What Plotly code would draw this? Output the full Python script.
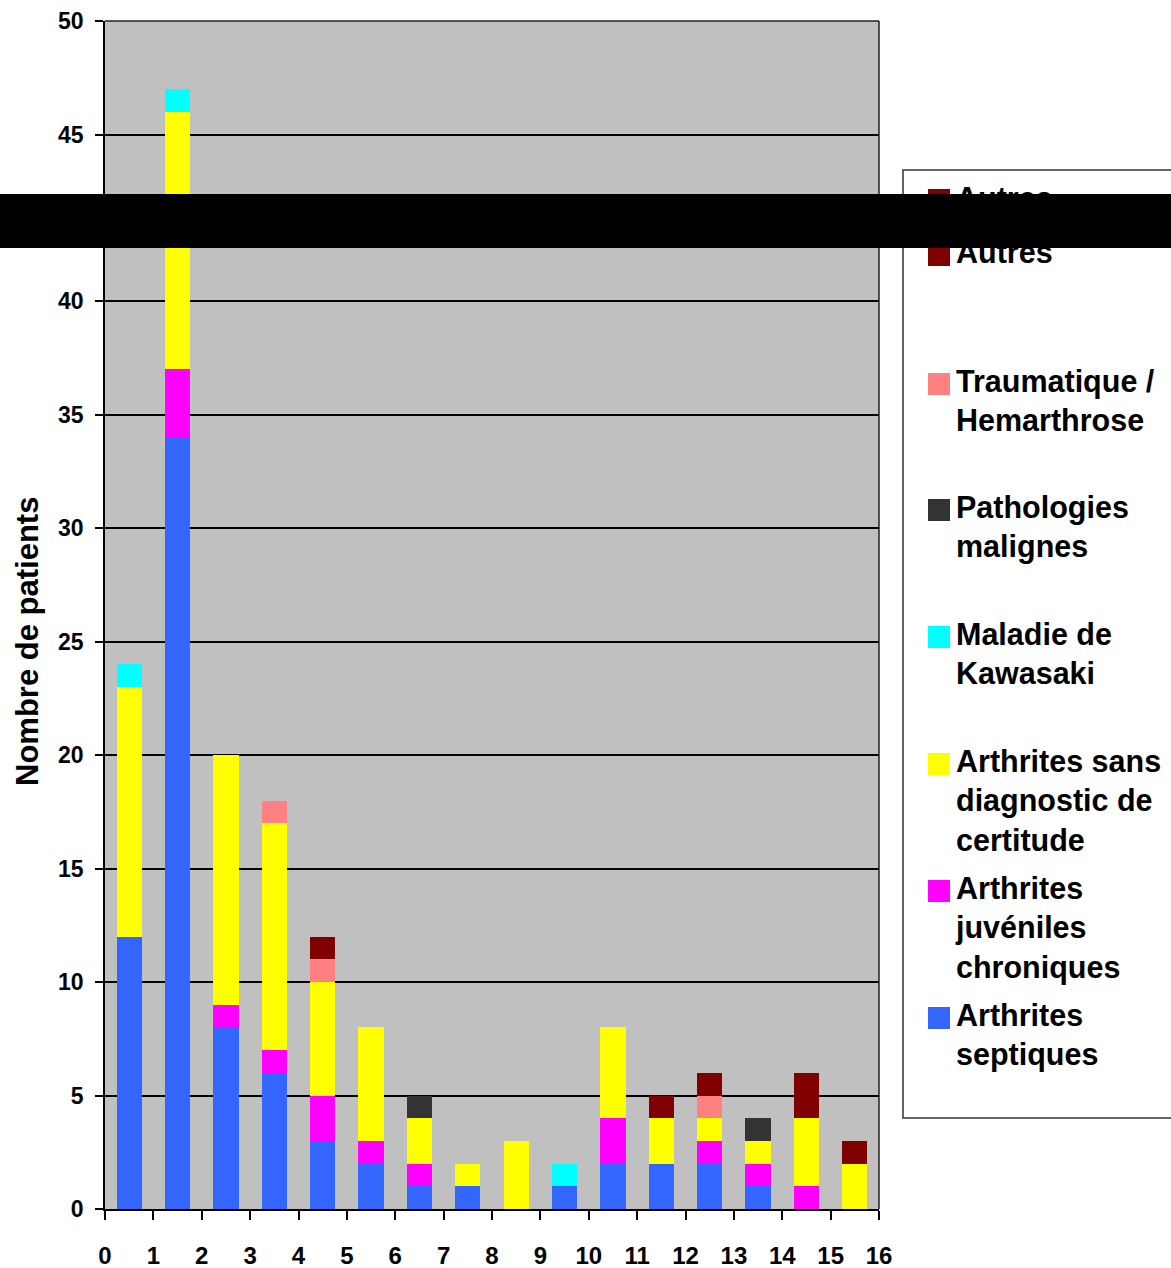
import plotly.graph_objects as go

# ---- data -------------------------------------------------------------
x_pos = [i + 0.5 for i in range(16)]
x_ticks = list(range(17))

series_names = [
    "Arthrites septiques",
    "Arthrites juvéniles chroniques",
    "Arthrites sans diagnostic de certitude",
    "Maladie de Kawasaki",
    "Pathologies malignes",
    "Traumatique / Hemarthrose",
    "Autres",
]
legend_labels = [
    "Arthrites<br>septiques",
    "Arthrites<br>juvéniles<br>chroniques",
    "Arthrites sans<br>diagnostic de<br>certitude",
    "Maladie de<br>Kawasaki",
    "Pathologies<br>malignes",
    "Traumatique /<br>Hemarthrose",
    "Autres",
]
septiques = [12, 34, 8, 6, 3, 2, 1, 1, 0, 1, 2, 2, 2, 1, 0, 0]
juveniles = [0, 3, 1, 1, 2, 1, 1, 0, 0, 0, 2, 0, 1, 1, 1, 0]
sans_diag = [11, 9, 11, 10, 5, 5, 2, 1, 3, 0, 4, 2, 1, 1, 3, 2]
kawasaki = [1, 1, 0, 0, 0, 0, 0, 0, 0, 1, 0, 0, 0, 0, 0, 0]
malignes = [0, 0, 0, 0, 0, 0, 1, 0, 0, 0, 0, 0, 0, 1, 0, 0]
traumatique = [0, 0, 0, 1, 1, 0, 0, 0, 0, 0, 0, 0, 1, 0, 0, 0]
autres = [0, 0, 0, 0, 1, 0, 0, 0, 0, 0, 0, 1, 1, 0, 2, 1]
series_values = [septiques, juveniles, sans_diag, kawasaki, malignes, traumatique, autres]
colors = ["#3366FF", "#FF00FF", "#FFFF00", "#00FFFF", "#333333", "#FF8080", "#800000"]

y_ticks_low = [0, 5, 10, 15, 20, 25, 30, 35, 40]
y_ticks_high = [45, 50]
y_break = 42.35
y_max = 50

# ---- geometry helpers (pixel -> paper) ----------------------------------
W, H = 1171, 1268


def px(v):
    return v / W


def py(v):
    return 1 - v / H


FONT = "Liberation Sans, Arial, Helvetica, sans-serif"
plot_l, plot_r = 105, 879
low_top, low_bot = 248, 1209
high_top, high_bot = 21, 195

fig = go.Figure()

# stacked bars, drawn on both halves of the broken axis
for name, vals, col in zip(series_names, series_values, colors):
    for xa, ya in (("x", "y"), ("x2", "y2")):
        fig.add_trace(go.Bar(
            x=x_pos, y=vals, name=name, width=0.52,
            marker=dict(color=col, line=dict(width=0)),
            xaxis=xa, yaxis=ya, showlegend=False, hoverinfo="skip",
        ))

# legend text lives on a hidden pixel-coordinate axis so the band can cover it
leg_x_text = 956
leg_font_size = 30.5
leg_first_line = [1018, 891, 764, 637, 510, 384, 255]
line_h = 1.3 * leg_font_size
leg_sw = 22
for lab, yc in zip(legend_labels, leg_first_line):
    n = lab.count("<br>") + 1
    fig.add_trace(go.Scatter(
        x=[leg_x_text], y=[yc + (n - 1) * line_h / 2], mode="text",
        text=[lab], textposition="middle right",
        textfont=dict(family=FONT, size=leg_font_size, color="black", weight="bold"),
        xaxis="x3", yaxis="y3", showlegend=False, hoverinfo="skip",
        cliponaxis=False,
    ))
# the upper duplicate "Autres" row peeking above the black band
fig.add_trace(go.Scatter(
    x=[leg_x_text], y=[201], mode="text", text=[legend_labels[-1]],
    textposition="middle right",
    textfont=dict(family=FONT, size=leg_font_size, color="black", weight="bold"),
    xaxis="x3", yaxis="y3", showlegend=False, hoverinfo="skip", cliponaxis=False,
))

shapes = []
# grey plotting area
shapes.append(dict(type="rect", xref="paper", yref="paper",
                   x0=px(plot_l), x1=px(plot_r), y0=py(low_bot), y1=py(high_top),
                   fillcolor="#C0C0C0", line=dict(width=0), layer="below"))
# legend frame
shapes.append(dict(type="rect", xref="paper", yref="paper",
                   x0=px(903), x1=px(1200), y0=py(1118), y1=py(170),
                   fillcolor="white", line=dict(color="#333333", width=1.5),
                   layer="below"))
# plot frame: top and right edges
shapes.append(dict(type="line", xref="paper", yref="paper",
                   x0=px(plot_l), x1=px(plot_r), y0=py(high_top), y1=py(high_top),
                   line=dict(color="#222222", width=1.5), layer="above"))
shapes.append(dict(type="line", xref="paper", yref="paper",
                   x0=px(plot_r), x1=px(plot_r), y0=py(low_bot), y1=py(high_top),
                   line=dict(color="#222222", width=1.5), layer="above"))
# legend swatches
for col, yc in zip(colors, leg_first_line):
    shapes.append(dict(type="rect", xref="paper", yref="paper",
                       x0=px(928), x1=px(928 + leg_sw),
                       y0=py(yc + leg_sw / 2), y1=py(yc - leg_sw / 2),
                       fillcolor=col, line=dict(width=0), layer="above"))
shapes.append(dict(type="rect", xref="paper", yref="paper",
                   x0=px(928), x1=px(928 + leg_sw), y0=py(211), y1=py(189),
                   fillcolor=colors[-1], line=dict(width=0), layer="above"))
# black band across the axis break
shapes.append(dict(type="rect", xref="paper", yref="paper",
                   x0=0, x1=1, y0=py(248), y1=py(194),
                   fillcolor="black", line=dict(width=0), layer="above"))

tick_font_y = dict(family=FONT, size=23, color="black", weight="bold")
tick_font_x = dict(family=FONT, size=24, color="black", weight="bold")

fig.update_layout(
    width=W, height=H,
    margin=dict(l=0, r=0, t=0, b=0, autoexpand=False),
    paper_bgcolor="white",
    plot_bgcolor="rgba(0,0,0,0)",
    barmode="stack",
    bargap=0,
    showlegend=False,
    shapes=shapes,
    xaxis=dict(domain=[px(plot_l), px(plot_r)], range=[0, 16], anchor="y",
               tickmode="array", tickvals=x_ticks, ticktext=[str(t) for t in x_ticks],
               ticks="outside", ticklen=9, tickwidth=1.5, tickcolor="black",
               showline=True, linecolor="black", linewidth=1.5,
               showgrid=False, zeroline=False, tickfont=tick_font_x,
               ticklabelstandoff=15, automargin=False),
    yaxis=dict(domain=[py(low_bot), py(low_top)], range=[0, y_break], anchor="x",
               tickmode="array", tickvals=y_ticks_low,
               ticks="outside", ticklen=8, tickwidth=1.5, tickcolor="black",
               showline=True, linecolor="black", linewidth=1.5,
               showgrid=True, gridcolor="black", gridwidth=1.5, zeroline=False,
               tickfont=tick_font_y, ticklabelstandoff=7, automargin=False),
    xaxis2=dict(domain=[px(plot_l), px(plot_r)], range=[0, 16], anchor="y2",
                showticklabels=False, ticks="", showline=False, showgrid=False,
                zeroline=False, automargin=False),
    yaxis2=dict(domain=[py(high_bot), py(high_top)], range=[y_break, y_max], anchor="x2",
                tickmode="array", tickvals=y_ticks_high,
                ticks="outside", ticklen=8, tickwidth=1.5, tickcolor="black",
                showline=True, linecolor="black", linewidth=1.5,
                showgrid=True, gridcolor="black", gridwidth=1.5, zeroline=False,
                tickfont=tick_font_y, ticklabelstandoff=7, automargin=False),
    xaxis3=dict(domain=[px(903), 1], range=[903, W], anchor="y3", visible=False,
                automargin=False),
    yaxis3=dict(domain=[py(1118), py(170)], range=[1118, 170], anchor="x3", visible=False,
                automargin=False),
    annotations=[dict(
        text="Nombre de patients", xref="paper", yref="paper",
        x=px(27), y=py(642), xanchor="center", yanchor="middle",
        textangle=-90, showarrow=False,
        font=dict(family=FONT, size=31, color="black", weight="bold"),
    )],
)

fig.write_html("out.html")
